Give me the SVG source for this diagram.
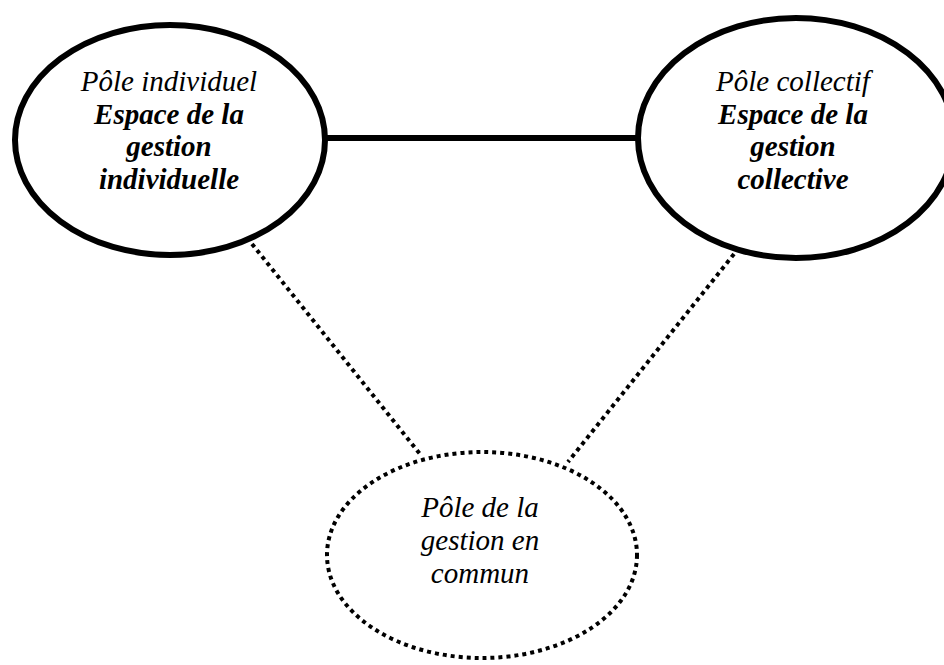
<svg xmlns="http://www.w3.org/2000/svg" width="944" height="665" viewBox="0 0 944 665">
<style>
.bg{fill:#fff}
.solid{fill:#fff;stroke:#000;stroke-width:6}
.dotted{fill:#fff;stroke:#000;stroke-width:4;stroke-dasharray:4 4}
.link{stroke:#000;stroke-width:6;fill:none}
.dlink{stroke:#000;stroke-width:4;stroke-dasharray:4 4;fill:none}
text{font-family:"Liberation Serif","Times New Roman",serif;font-size:29px;font-style:italic;fill:#000;text-anchor:middle}
.b{font-weight:bold}
</style>
<rect class="bg" x="0" y="0" width="944" height="665"/>
<g id="connectors">
<line class="link" x1="320" y1="138" x2="645" y2="138"/>
<line class="dlink" x1="252" y1="244" x2="420" y2="454"/>
<line class="dlink" x1="734" y1="254" x2="568" y2="462"/>
</g>
<g id="node-individuel">
<ellipse class="solid" cx="170" cy="140" rx="155" ry="115"/>
<text x="169" y="91">Pôle individuel</text>
<text class="b" x="169" y="124">Espace de la</text>
<text class="b" x="169" y="156">gestion</text>
<text class="b" x="169" y="189">individuelle</text>
</g>
<g id="node-collectif">
<ellipse class="solid" cx="796" cy="138" rx="158" ry="120"/>
<text x="793" y="91">Pôle collectif</text>
<text class="b" x="793" y="124">Espace de la</text>
<text class="b" x="793" y="156">gestion</text>
<text class="b" x="793" y="189">collective</text>
</g>
<g id="node-commun">
<ellipse class="dotted" cx="482" cy="555" rx="155" ry="103"/>
<text x="480" y="517">Pôle de la</text>
<text x="480" y="550">gestion en</text>
<text x="480" y="583">commun</text>
</g>
</svg>
